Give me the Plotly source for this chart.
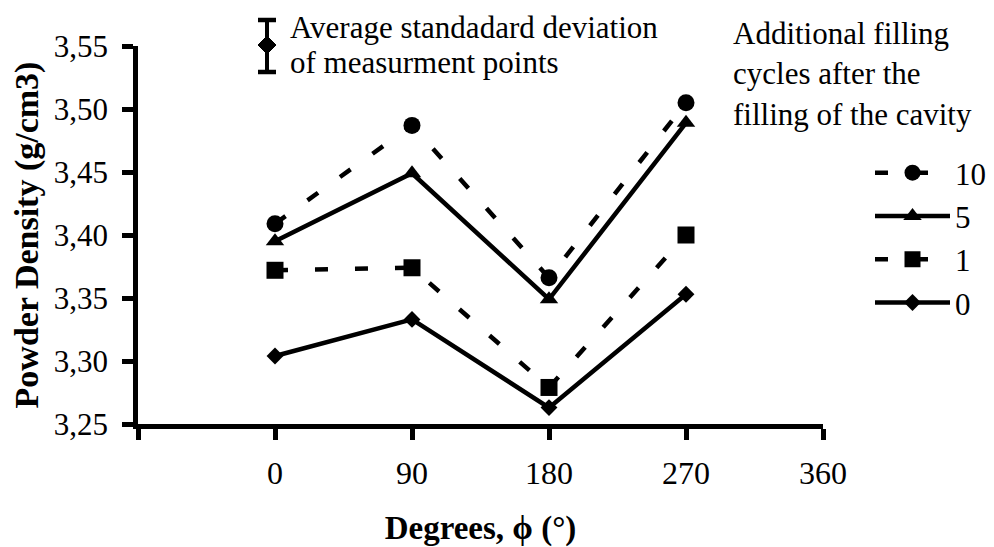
import plotly.graph_objects as go

degrees = [0, 90, 180, 270]
cycles_10 = [3.409, 3.487, 3.366, 3.505]
cycles_5 = [3.395, 3.449, 3.349, 3.489]
cycles_1 = [3.372, 3.374, 3.279, 3.400]
cycles_0 = [3.304, 3.333, 3.263, 3.353]

x_tickvals = [-90, 0, 90, 180, 270, 360]
x_ticktext = ["", "0", "90", "180", "270", "360"]
y_tickvals = [3.25, 3.30, 3.35, 3.40, 3.45, 3.50, 3.55]
y_ticktext = ["3,25", "3,30", "3,35", "3,40", "3,45", "3,50", "3,55"]

FONT = "Liberation Serif, Times New Roman, serif"
DASH = "13px,27px"

fig = go.Figure()
series = [
    ("10", cycles_10, "circle", DASH, 17),
    ("5", cycles_5, "triangle-up", "solid", 16),
    ("1", cycles_1, "square", DASH, 17),
    ("0", cycles_0, "diamond", "solid", 13),
]
for i, (name, vals, sym, dash, size) in enumerate(series):
    fig.add_trace(go.Scatter(
        x=degrees, y=vals, name=name, mode="lines+markers",
        line=dict(color="black", width=4.5, dash=dash),
        marker=dict(symbol=sym, size=size, color="black"),
        legendgroup=f"g{i}",
    ))

# page body has an 8px margin: figure occupies screen x,y >= 8
OFF = 8
W, H = 994 - OFF, 547 - OFF
SX0, SX1, SY0, SY1 = 138, 823, 46, 424   # plot area in screen pixels
L, R, T, B = SX0 - OFF, W - (SX1 - OFF), SY0 - OFF, H - (SY1 - OFF)
pw, ph = SX1 - SX0, SY1 - SY0

def px(xs):
    return (xs - SX0) / pw

def py(ys):
    return (SY1 - ys) / ph

fig.update_layout(
    width=W, height=H,
    margin=dict(l=L, r=R, t=T, b=B, autoexpand=False),
    paper_bgcolor="white", plot_bgcolor="white",
    font=dict(family=FONT, size=31, color="black"),
    showlegend=True,
    legend=dict(
        x=px(870), y=py(146), xanchor="left", yanchor="top",
        font=dict(size=31), itemwidth=75,
        traceorder="grouped", tracegroupgap=0,
        bgcolor="rgba(0,0,0,0)",
    ),
    xaxis=dict(
        range=[-90, 360], tickvals=x_tickvals, ticktext=x_ticktext,
        showgrid=False, zeroline=False, showline=True,
        linecolor="black", linewidth=4.5,
        ticks="outside", ticklen=11, tickwidth=4.5, tickcolor="black",
        ticklabelstandoff=6,
        tickfont=dict(size=32),
        title=dict(text="<b>Degrees, ϕ (°)</b>", font=dict(size=33), standoff=30),
    ),
    yaxis=dict(
        range=[3.25, 3.55], tickvals=y_tickvals, ticktext=y_ticktext,
        showgrid=False, zeroline=False, showline=True,
        linecolor="black", linewidth=4.5,
        ticks="outside", ticklen=11, tickwidth=4.5, tickcolor="black",
        ticklabelstandoff=8,
        tickfont=dict(size=31),
        title=dict(text="<b>Powder Density (g/cm3)</b>", font=dict(size=34), standoff=10),
    ),
)

# Error-bar legend key (top-left annotation)
ex = px(267)
fig.add_shape(type="line", xref="paper", yref="paper", x0=ex, x1=ex, y0=py(20), y1=py(72),
              line=dict(color="black", width=4))
for yy in (20, 72):
    fig.add_shape(type="line", xref="paper", yref="paper", x0=px(258), x1=px(276), y0=py(yy), y1=py(yy),
                  line=dict(color="black", width=4.5))
fig.add_shape(type="path", xref="paper", yref="paper",
              path=f"M {px(258)} {py(45)} L {ex} {py(36)} L {px(276)} {py(45)} L {ex} {py(54)} Z",
              fillcolor="black", line=dict(color="black", width=1))
fig.add_annotation(xref="paper", yref="paper", x=px(288), y=py(8), xanchor="left", yanchor="top",
                   text="Average standadard deviation", showarrow=False,
                   align="left", font=dict(size=31))
fig.add_annotation(xref="paper", yref="paper", x=px(288), y=py(43), xanchor="left", yanchor="top",
                   text="of measurment points", showarrow=False,
                   align="left", font=dict(size=31))
fig.add_annotation(xref="paper", yref="paper", x=px(731), y=py(14), xanchor="left", yanchor="top",
                   text="Additional filling<br>cycles after the<br>filling of the cavity", showarrow=False,
                   align="left", font=dict(size=31))

fig.write_html("out.html")
